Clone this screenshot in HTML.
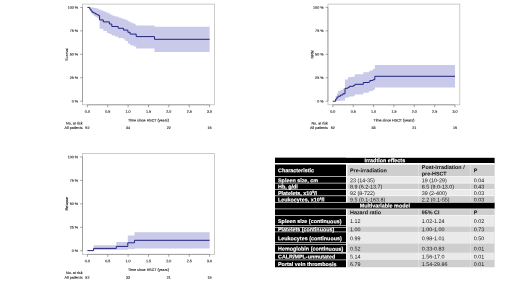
<!DOCTYPE html>
<html><head><meta charset="utf-8"><title>Figure</title>
<style>
html,body{margin:0;padding:0;background:#fff;}
body{width:520px;height:292px;overflow:hidden;font-family:"Liberation Sans",sans-serif;}
svg{display:block;will-change:transform;}
svg text{font-family:"Liberation Sans",sans-serif;}
.ch text{font-size:3.66px;fill:#151515;stroke:#151515;stroke-width:0.1px;}
.tb text{font-size:5.4px;}
</style></head><body>
<svg width="520" height="292" viewBox="0 0 520 292">
<rect width="520" height="292" fill="#fff"/>
<g class="ch">
<g transform="translate(0,0)">
<path d="M87.40,7.40H91.50V7.40H94.00V7.90H96.50V8.60H98.70V9.40H100.80V10.40H103.50V11.40H106.00V12.60H108.40V13.60H110.50V14.80H112.50V15.80H115.00V16.50H118.20V17.50H121.00V18.40H123.60V19.20H126.00V20.20H127.90V21.20H130.10V22.40H132.50V23.50H135.00V24.60H136.20V25.50H154.50V26.70H209.60V26.70V52.00H209.60V52.00H154.50V48.40H136.20V46.50H133.50V45.30H130.10V43.40H127.90V41.00H125.50V39.60H123.60V37.90H118.20V36.50H115.00V35.60H111.80V34.00H109.40V33.00H107.00V31.00H103.30V28.70H99.60V18.70H98.60V17.90H97.00V17.00H95.40V15.90H93.80V14.60H92.20V12.90H90.90V10.60H89.80V7.40H89.60V7.40H87.40Z" fill="#c9c9ea"/>
<path d="M87.40,7.40H89.80V9.20H90.90V10.90H92.20V12.30H93.80V13.10H95.40V14.00H97.00V14.80H98.60V15.60H99.60V19.90H103.30V21.90H109.40V24.00H111.80V26.50H118.20V28.30H123.60V30.10H127.90V32.30H130.10V34.10H136.20V36.60H154.50V39.30H209.60" fill="none" stroke="#24247c" stroke-width="1.0"/>
<rect x="82.5" y="4.1" width="131.90" height="100.70" fill="none" stroke="#b4b4b4" stroke-width="0.7"/>
<path d="M82.5,7.4V101.2M87.4,104.8H209.56" fill="none" stroke="#8c8c8c" stroke-width="0.7"/>
<path d="M80.2,7.4H82.5M80.2,30.85H82.5M80.2,54.3H82.5M80.2,77.75H82.5M80.2,101.2H82.5M87.40,104.8V107.2M107.76,104.8V107.2M128.12,104.8V107.2M148.48,104.8V107.2M168.84,104.8V107.2M189.20,104.8V107.2M209.56,104.8V107.2" stroke="#666" stroke-width="0.6" fill="none"/>
<text transform="translate(78.00,8.65) skewY(0.03)" text-anchor="end">100 %</text>
<text transform="translate(78.00,32.10) skewY(0.03)" text-anchor="end">75 %</text>
<text transform="translate(78.00,55.55) skewY(0.03)" text-anchor="end">50 %</text>
<text transform="translate(78.00,79.00) skewY(0.03)" text-anchor="end">25 %</text>
<text transform="translate(78.00,102.45) skewY(0.03)" text-anchor="end">0 %</text>
<text transform="translate(87.40,112.70) skewY(0.03)" text-anchor="middle">0.0</text>
<text transform="translate(107.76,112.70) skewY(0.03)" text-anchor="middle">0.5</text>
<text transform="translate(128.12,112.70) skewY(0.03)" text-anchor="middle">1.0</text>
<text transform="translate(148.48,112.70) skewY(0.03)" text-anchor="middle">1.5</text>
<text transform="translate(168.84,112.70) skewY(0.03)" text-anchor="middle">2.0</text>
<text transform="translate(189.20,112.70) skewY(0.03)" text-anchor="middle">2.5</text>
<text transform="translate(209.56,112.70) skewY(0.03)" text-anchor="middle">3.0</text>
<text transform="translate(148.50,121.50) skewY(0.03)" text-anchor="middle">Time since HSCT (years)</text>
<text transform="translate(68,54.3) rotate(-90) skewY(0.03)" text-anchor="middle">Survival</text>
<text transform="translate(82.50,124.40) skewY(0.03)" text-anchor="end">No. at risk</text>
<text transform="translate(82.50,129.10) skewY(0.03)" text-anchor="end">All patients</text>
<text transform="translate(87.40,129.10) skewY(0.03)" text-anchor="middle">52</text>
<text transform="translate(128.12,129.10) skewY(0.03)" text-anchor="middle">34</text>
<text transform="translate(168.84,129.10) skewY(0.03)" text-anchor="middle">22</text>
<text transform="translate(209.56,129.10) skewY(0.03)" text-anchor="middle">16</text>
</g>
<g transform="translate(245.45,0)">
<path d="M87.30,101.25H90.15V95.90H91.35V93.40H92.55V91.00H95.05V89.70H97.35V88.60H99.55V79.50H102.45V77.60H103.85V77.00H108.05V76.40H109.45V74.30H117.85V72.20H123.25V71.60H124.45V70.40H127.45V69.10H129.35V65.00H209.55V65.00V87.60H209.55V87.60H129.35V90.10H127.45V90.90H124.45V91.60H123.25V92.80H117.85V94.50H109.45V95.70H108.05V96.50H103.85V97.20H102.45V97.80H99.55V100.60H95.05V101.00H91.35V101.25H90.15V101.25H87.30Z" fill="#c9c9ea"/>
<path d="M87.30,101.25H90.15V99.20H91.35V97.70H92.55V96.20H95.05V95.00H97.35V93.80H99.55V88.30H102.45V87.50H103.85V86.30H108.05V85.40H109.45V84.30H117.85V82.50H123.25V82.00H124.45V80.50H127.45V79.70H129.35V76.30H209.55" fill="none" stroke="#24247c" stroke-width="1.0"/>
<rect x="82.5" y="4.1" width="131.90" height="100.70" fill="none" stroke="#b4b4b4" stroke-width="0.7"/>
<path d="M82.5,7.4V101.2M87.4,104.8H209.56" fill="none" stroke="#8c8c8c" stroke-width="0.7"/>
<path d="M80.2,7.4H82.5M80.2,30.85H82.5M80.2,54.3H82.5M80.2,77.75H82.5M80.2,101.2H82.5M87.40,104.8V107.2M107.76,104.8V107.2M128.12,104.8V107.2M148.48,104.8V107.2M168.84,104.8V107.2M189.20,104.8V107.2M209.56,104.8V107.2" stroke="#666" stroke-width="0.6" fill="none"/>
<text transform="translate(78.00,8.65) skewY(0.03)" text-anchor="end">100 %</text>
<text transform="translate(78.00,32.10) skewY(0.03)" text-anchor="end">75 %</text>
<text transform="translate(78.00,55.55) skewY(0.03)" text-anchor="end">50 %</text>
<text transform="translate(78.00,79.00) skewY(0.03)" text-anchor="end">25 %</text>
<text transform="translate(78.00,102.45) skewY(0.03)" text-anchor="end">0 %</text>
<text transform="translate(87.40,112.70) skewY(0.03)" text-anchor="middle">0.0</text>
<text transform="translate(107.76,112.70) skewY(0.03)" text-anchor="middle">0.5</text>
<text transform="translate(128.12,112.70) skewY(0.03)" text-anchor="middle">1.0</text>
<text transform="translate(148.48,112.70) skewY(0.03)" text-anchor="middle">1.5</text>
<text transform="translate(168.84,112.70) skewY(0.03)" text-anchor="middle">2.0</text>
<text transform="translate(189.20,112.70) skewY(0.03)" text-anchor="middle">2.5</text>
<text transform="translate(209.56,112.70) skewY(0.03)" text-anchor="middle">3.0</text>
<text transform="translate(148.50,121.50) skewY(0.03)" text-anchor="middle">Time since HSCT (years)</text>
<text transform="translate(68,54.3) rotate(-90) skewY(0.03)" text-anchor="middle">NRM</text>
<text transform="translate(82.50,124.40) skewY(0.03)" text-anchor="end">No. at risk</text>
<text transform="translate(82.50,129.10) skewY(0.03)" text-anchor="end">All patients</text>
<text transform="translate(87.40,129.10) skewY(0.03)" text-anchor="middle">52</text>
<text transform="translate(128.12,129.10) skewY(0.03)" text-anchor="middle">33</text>
<text transform="translate(168.84,129.10) skewY(0.03)" text-anchor="middle">21</text>
<text transform="translate(209.56,129.10) skewY(0.03)" text-anchor="middle">15</text>
</g>
<g transform="translate(0,149.55)">
<path d="M87.40,101.05H93.60V95.75H116.30V92.45H127.80V85.85H134.50V82.75H209.60V82.75V98.95H209.60V98.95H134.50V99.45H127.80V100.15H116.30V100.55H93.60V101.05H87.40Z" fill="#c9c9ea"/>
<path d="M87.40,101.05H93.60V98.85H116.30V96.85H127.80V93.25H134.50V90.75H209.60" fill="none" stroke="#24247c" stroke-width="1.0"/>
<rect x="82.5" y="4.1" width="131.90" height="100.70" fill="none" stroke="#b4b4b4" stroke-width="0.7"/>
<path d="M82.5,7.4V101.2M87.4,104.8H209.56" fill="none" stroke="#8c8c8c" stroke-width="0.7"/>
<path d="M80.2,7.4H82.5M80.2,30.85H82.5M80.2,54.3H82.5M80.2,77.75H82.5M80.2,101.2H82.5M87.40,104.8V107.2M107.76,104.8V107.2M128.12,104.8V107.2M148.48,104.8V107.2M168.84,104.8V107.2M189.20,104.8V107.2M209.56,104.8V107.2" stroke="#666" stroke-width="0.6" fill="none"/>
<text transform="translate(78.00,8.65) skewY(0.03)" text-anchor="end">100 %</text>
<text transform="translate(78.00,32.10) skewY(0.03)" text-anchor="end">75 %</text>
<text transform="translate(78.00,55.55) skewY(0.03)" text-anchor="end">50 %</text>
<text transform="translate(78.00,79.00) skewY(0.03)" text-anchor="end">25 %</text>
<text transform="translate(78.00,102.45) skewY(0.03)" text-anchor="end">0 %</text>
<text transform="translate(87.40,112.70) skewY(0.03)" text-anchor="middle">0.0</text>
<text transform="translate(107.76,112.70) skewY(0.03)" text-anchor="middle">0.5</text>
<text transform="translate(128.12,112.70) skewY(0.03)" text-anchor="middle">1.0</text>
<text transform="translate(148.48,112.70) skewY(0.03)" text-anchor="middle">1.5</text>
<text transform="translate(168.84,112.70) skewY(0.03)" text-anchor="middle">2.0</text>
<text transform="translate(189.20,112.70) skewY(0.03)" text-anchor="middle">2.5</text>
<text transform="translate(209.56,112.70) skewY(0.03)" text-anchor="middle">3.0</text>
<text transform="translate(148.50,121.50) skewY(0.03)" text-anchor="middle">Time since HSCT (years)</text>
<text transform="translate(68,54.3) rotate(-90) skewY(0.03)" text-anchor="middle">Relapse</text>
<text transform="translate(82.50,124.40) skewY(0.03)" text-anchor="end">No. at risk</text>
<text transform="translate(82.50,129.10) skewY(0.03)" text-anchor="end">All patients</text>
<text transform="translate(87.40,129.10) skewY(0.03)" text-anchor="middle">52</text>
<text transform="translate(128.12,129.10) skewY(0.03)" text-anchor="middle">33</text>
<text transform="translate(168.84,129.10) skewY(0.03)" text-anchor="middle">21</text>
<text transform="translate(209.56,129.10) skewY(0.03)" text-anchor="middle">15</text>
</g>
</g>
<g class="tb">
<rect x="275.00" y="157.80" width="71.00" height="109.45" fill="#000"/>
<rect x="275.00" y="157.80" width="219.60" height="5.95" fill="#000"/>
<rect x="347.20" y="164.50" width="147.40" height="102.75" fill="#cecece"/>
<rect x="345.50" y="202.30" width="149.10" height="6.60" fill="#000"/>
<rect x="347.20" y="176.50" width="147.40" height="6.60" fill="#eaeaea"/>
<rect x="347.20" y="189.30" width="147.40" height="6.50" fill="#eaeaea"/>
<rect x="347.20" y="215.50" width="147.40" height="11.20" fill="#eaeaea"/>
<rect x="347.20" y="231.90" width="147.40" height="11.80" fill="#eaeaea"/>
<rect x="347.20" y="252.70" width="147.40" height="7.20" fill="#eaeaea"/>
<rect x="275.00" y="163.00" width="219.60" height="1.50" fill="#fff" opacity="1"/>
<rect x="275.00" y="176.18" width="219.60" height="0.65" fill="#fff" opacity="1"/>
<rect x="275.00" y="182.78" width="219.60" height="0.65" fill="#fff" opacity="1"/>
<rect x="275.00" y="188.98" width="219.60" height="0.65" fill="#fff" opacity="1"/>
<rect x="275.00" y="195.48" width="219.60" height="0.65" fill="#fff" opacity="1"/>
<rect x="275.00" y="201.98" width="219.60" height="0.65" fill="#fff" opacity="1"/>
<rect x="275.00" y="208.58" width="219.60" height="0.65" fill="#fff" opacity="1"/>
<rect x="275.00" y="215.18" width="219.60" height="0.65" fill="#fff" opacity="1"/>
<rect x="275.00" y="225.10" width="71.00" height="0.60" fill="#fff" opacity="1"/>
<rect x="275.00" y="227.10" width="71.00" height="0.60" fill="#fff" opacity="1"/>
<rect x="275.00" y="231.60" width="71.00" height="0.60" fill="#fff" opacity="1"/>
<rect x="275.00" y="242.10" width="71.00" height="0.60" fill="#fff" opacity="1"/>
<rect x="275.00" y="244.00" width="71.00" height="0.60" fill="#fff" opacity="1"/>
<rect x="275.00" y="259.60" width="71.00" height="0.60" fill="#fff" opacity="1"/>
<rect x="275.00" y="252.25" width="71.00" height="1.30" fill="#fff" opacity="1"/>
<rect x="346.0" y="164.5" width="1.20" height="37.80000000000001" fill="#fff"/>
<rect x="346.0" y="208.9" width="1.20" height="58.35" fill="#fff"/>
<rect x="418.15" y="164.5" width="0.5" height="37.80000000000001" fill="#fff" opacity="0.6"/>
<rect x="418.15" y="208.9" width="0.5" height="58.35" fill="#fff" opacity="0.6"/>
<rect x="469.95" y="164.5" width="0.5" height="37.80000000000001" fill="#fff" opacity="0.6"/>
<rect x="469.95" y="208.9" width="0.5" height="58.35" fill="#fff" opacity="0.6"/>
<text transform="translate(384.80,162.30) skewY(0.03)" fill="#fff" stroke="#fff" stroke-width="0.14" font-weight="bold" text-anchor="middle">Irradtion effects</text>
<text transform="translate(384.80,207.50) skewY(0.03)" fill="#fff" stroke="#fff" stroke-width="0.14" font-weight="bold" text-anchor="middle">Multivariable model</text>
<text transform="translate(278.00,172.20) skewY(0.03)" fill="#fff" stroke="#fff" stroke-width="0.14" font-weight="bold">Characteristic</text>
<text transform="translate(350.00,172.20) skewY(0.03)" fill="#111" font-weight="bold">Pre-irradiation</text>
<text transform="translate(473.70,172.20) skewY(0.03)" fill="#111" font-weight="bold">P</text>
<text transform="translate(421.80,169.10) skewY(0.03)" fill="#111" font-weight="bold">Post-irradiation /</text>
<text transform="translate(421.80,175.55) skewY(0.03)" fill="#111" font-weight="bold">pre-HSCT</text>
<text transform="translate(278.00,182.30) skewY(0.03)" fill="#fff" stroke="#fff" stroke-width="0.14" font-weight="bold">Spleen size, cm</text>
<text transform="translate(350.00,182.30) skewY(0.03)" fill="#141414">23 (14-35)</text>
<text transform="translate(421.80,182.30) skewY(0.03)" fill="#141414">19 (10-29)</text>
<text transform="translate(473.70,182.30) skewY(0.03)" fill="#141414">0.04</text>
<text transform="translate(278.00,188.50) skewY(0.03)" fill="#fff" stroke="#fff" stroke-width="0.14" font-weight="bold">Hb, g/dl</text>
<text transform="translate(350.00,188.50) skewY(0.03)" fill="#141414">8.9 (6.2-13.7)</text>
<text transform="translate(421.80,188.50) skewY(0.03)" fill="#141414">8.5 (9.0-13.0)</text>
<text transform="translate(473.70,188.50) skewY(0.03)" fill="#141414">0.43</text>
<text transform="translate(278.00,194.90) skewY(0.03)" fill="#fff" stroke="#fff" stroke-width="0.14" font-weight="bold">Platelets, x10<tspan font-size="3.4" dy="-1.8">9</tspan><tspan dy="1.8">/l</tspan></text>
<text transform="translate(350.00,194.90) skewY(0.03)" fill="#141414">92 (8-722)</text>
<text transform="translate(421.80,194.90) skewY(0.03)" fill="#141414">39 (2-400)</text>
<text transform="translate(473.70,194.90) skewY(0.03)" fill="#141414">0.03</text>
<text transform="translate(278.00,201.50) skewY(0.03)" fill="#fff" stroke="#fff" stroke-width="0.14" font-weight="bold">Leukocytes, x10<tspan font-size="3.4" dy="-1.8">9</tspan><tspan dy="1.8">/l</tspan></text>
<text transform="translate(350.00,201.50) skewY(0.03)" fill="#141414">9.5 (0.1-163.8)</text>
<text transform="translate(421.80,201.50) skewY(0.03)" fill="#141414">2.2 (0.1-55)</text>
<text transform="translate(473.70,201.50) skewY(0.03)" fill="#141414">0.03</text>
<text transform="translate(350.00,214.30) skewY(0.03)" fill="#111" font-weight="bold">Hazard ratio</text>
<text transform="translate(421.80,214.30) skewY(0.03)" fill="#111" font-weight="bold">95% CI</text>
<text transform="translate(473.70,214.30) skewY(0.03)" fill="#111" font-weight="bold">P</text>
<text transform="translate(278.00,223.10) skewY(0.03)" fill="#fff" stroke="#fff" stroke-width="0.14" font-weight="bold">Spleen size (continuous)</text>
<text transform="translate(350.00,223.10) skewY(0.03)" fill="#141414">1.12</text>
<text transform="translate(421.80,223.10) skewY(0.03)" fill="#141414">1.02-1.24</text>
<text transform="translate(473.70,223.10) skewY(0.03)" fill="#141414">0.02</text>
<text transform="translate(278.00,231.30) skewY(0.03)" fill="#fff" stroke="#fff" stroke-width="0.14" font-weight="bold">Platelets (continuous)</text>
<text transform="translate(350.00,231.30) skewY(0.03)" fill="#141414">1.00</text>
<text transform="translate(421.80,231.30) skewY(0.03)" fill="#141414">1.00-1.00</text>
<text transform="translate(473.70,231.30) skewY(0.03)" fill="#141414">0.73</text>
<text transform="translate(278.00,240.20) skewY(0.03)" fill="#fff" stroke="#fff" stroke-width="0.14" font-weight="bold">Leukocytes (continuous)</text>
<text transform="translate(350.00,240.20) skewY(0.03)" fill="#141414">0.99</text>
<text transform="translate(421.80,240.20) skewY(0.03)" fill="#141414">0.98-1.01</text>
<text transform="translate(473.70,240.20) skewY(0.03)" fill="#141414">0.50</text>
<text transform="translate(278.00,250.60) skewY(0.03)" fill="#fff" stroke="#fff" stroke-width="0.14" font-weight="bold">Hemoglobin (continuous)</text>
<text transform="translate(350.00,250.60) skewY(0.03)" fill="#141414">0.52</text>
<text transform="translate(421.80,250.60) skewY(0.03)" fill="#141414">0.33-0.83</text>
<text transform="translate(473.70,250.60) skewY(0.03)" fill="#141414">0.01</text>
<text transform="translate(278.00,258.40) skewY(0.03)" fill="#fff" stroke="#fff" stroke-width="0.14" font-weight="bold">CALR/MPL-unmutated</text>
<text transform="translate(350.00,258.40) skewY(0.03)" fill="#141414">5.14</text>
<text transform="translate(421.80,258.40) skewY(0.03)" fill="#141414">1.56-17.0</text>
<text transform="translate(473.70,258.40) skewY(0.03)" fill="#141414">0.01</text>
<text transform="translate(278.00,266.10) skewY(0.03)" fill="#fff" stroke="#fff" stroke-width="0.14" font-weight="bold">Portal vein thrombosis</text>
<text transform="translate(350.00,266.10) skewY(0.03)" fill="#141414">6.79</text>
<text transform="translate(421.80,266.10) skewY(0.03)" fill="#141414">1.54-29.86</text>
<text transform="translate(473.70,266.10) skewY(0.03)" fill="#141414">0.01</text>
</g>
</svg>
</body></html>
